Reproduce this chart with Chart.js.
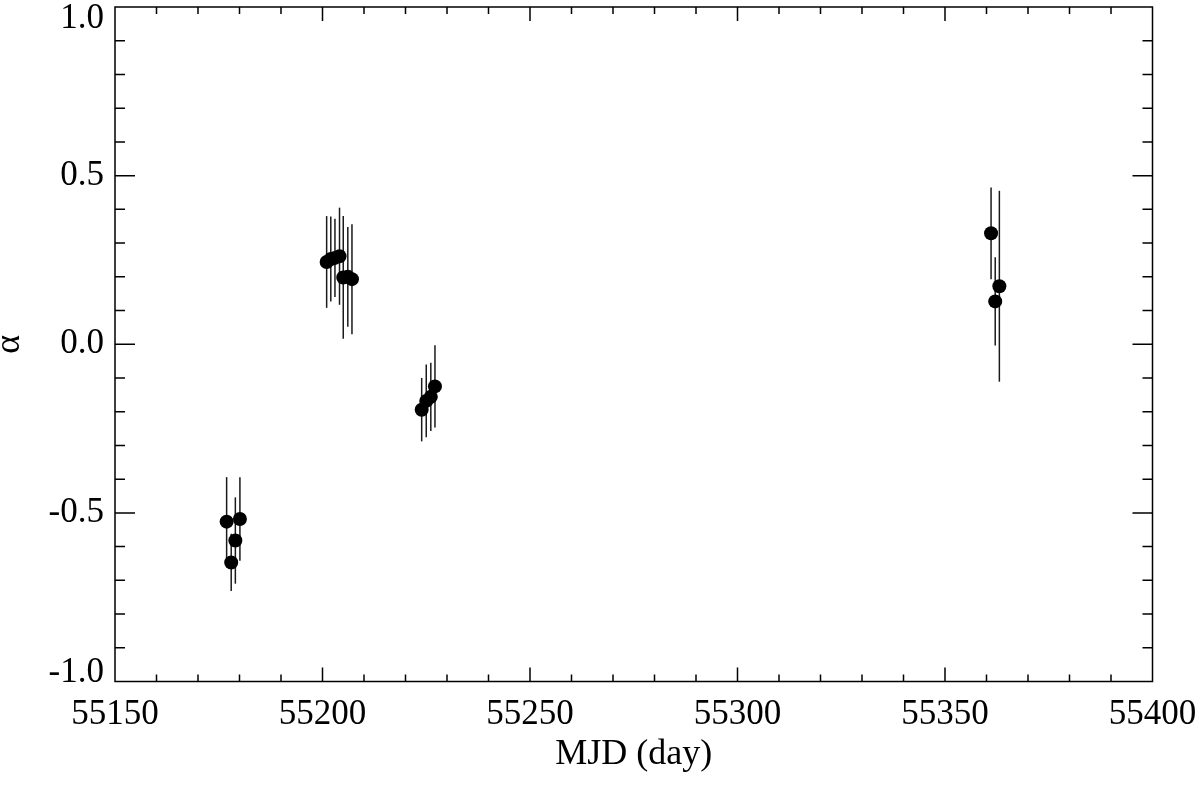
<!DOCTYPE html>
<html>
<head>
<meta charset="utf-8">
<script src="https://cdn.jsdelivr.net/npm/chart.js@4/dist/chart.umd.min.js"></script>
<style>
  html, body { margin: 0; padding: 0; background: #fff; }
  canvas { display: block; }
</style>
</head>
<body>
<canvas id="alphaChart" width="1200" height="787"></canvas>
<script>
// 数据 (MJD, alpha, 误差)
const mjd = [
    55176.9, 55178.0, 55179.0, 55180.1,
    55201.0, 55202.0, 55203.0, 55204.1, 55205.0, 55206.1, 55207.1,
    55223.9, 55225.0, 55226.1, 55227.1,
    55361.1, 55362.1, 55363.1
];
const alpha = [
    -0.526, -0.647, -0.582, -0.518,
    0.244, 0.253, 0.256, 0.261, 0.198, 0.200, 0.193,
    -0.194, -0.168, -0.156, -0.125,
    0.329, 0.127, 0.172
];
const alphaErr = [
    0.132, 0.085, 0.128, 0.124,
    0.136, 0.126, 0.116, 0.144, 0.182, 0.148, 0.163,
    0.094, 0.108, 0.101, 0.122,
    0.136, 0.131, 0.283
];

// 刻度
const xTicks = [55150, 55200, 55250, 55300, 55350, 55400];
const yTicks = [-1.0, -0.5, 0.0, 0.5, 1.0];
const xMinorStep = 10;
const yMinorStep = 0.1;

const serif = '"Liberation Serif", "Times New Roman", serif';

// 误差棒
const errorBarPlugin = {
    id: 'errorBars',
    beforeDatasetsDraw(chart) {
        const ctx = chart.ctx;
        const xs = chart.scales.x, ys = chart.scales.y;
        ctx.save();
        ctx.strokeStyle = '#1a1a1a';
        ctx.lineWidth = 1.5;
        for (let i = 0; i < mjd.length; i++) {
            const px = xs.getPixelForValue(mjd[i]);
            ctx.beginPath();
            ctx.moveTo(px, ys.getPixelForValue(alpha[i] + alphaErr[i]));
            ctx.lineTo(px, ys.getPixelForValue(alpha[i] - alphaErr[i]));
            ctx.stroke();
        }
        ctx.restore();
    }
};

// 首尾 y 标签收进图框内
const edgeLabelPlugin = {
    id: 'edgeLabels',
    beforeDraw(chart) {
        const ys = chart.scales.y;
        const items = ys.getLabelItems();
        items.forEach(item => {
            const t = item.options.translation;
            t[1] = Math.min(Math.max(t[1], ys.top + 12), ys.bottom - 9);
        });
    }
};

// 坐标框和内向刻度 (四边)
const frameTicksPlugin = {
    id: 'frameTicks',
    afterDraw(chart) {
        const ctx = chart.ctx;
        const a = chart.chartArea;
        const xs = chart.scales.x, ys = chart.scales.y;
        ctx.save();
        ctx.strokeStyle = '#000';
        ctx.lineWidth = 1.5;
        ctx.strokeRect(a.left, a.top, a.right - a.left, a.bottom - a.top);

        ctx.beginPath();
        const nx = Math.round((xs.max - xs.min) / xMinorStep);
        for (let k = 1; k < nx; k++) {
            const v = xs.min + k * xMinorStep;
            const px = xs.getPixelForValue(v);
            const len = xTicks.includes(v) ? 14 : 7;
            ctx.moveTo(px, a.bottom); ctx.lineTo(px, a.bottom - len);
            ctx.moveTo(px, a.top); ctx.lineTo(px, a.top + len);
        }
        const ny = Math.round((ys.max - ys.min) / yMinorStep);
        for (let k = 1; k < ny; k++) {
            const v = ys.min + k * yMinorStep;
            const py = ys.getPixelForValue(v);
            const major = yTicks.some(t => Math.abs(t - v) < 1e-6);
            const len = major ? 20 : 10;
            ctx.moveTo(a.left, py); ctx.lineTo(a.left + len, py);
            ctx.moveTo(a.right, py); ctx.lineTo(a.right - len, py);
        }
        ctx.stroke();
        ctx.restore();
    }
};

// 去掉标签溢出造成的额外边距
function noLabelPadding(s) {
    s.paddingLeft = 0;
    s.paddingRight = 0;
    s.paddingTop = 0;
    s.paddingBottom = 0;
}

const points = mjd.map((x, i) => ({ x: x, y: alpha[i] }));

new Chart(document.getElementById('alphaChart').getContext('2d'), {
    type: 'scatter',
    data: {
        datasets: [{
            data: points,
            backgroundColor: '#000',
            borderColor: '#000',
            pointRadius: 7,
            pointHoverRadius: 7,
            borderWidth: 0
        }]
    },
    options: {
        responsive: false,
        animation: false,
        devicePixelRatio: 1,
        layout: { padding: { top: 5.5, right: 47.5, left: 0, bottom: 0 } },
        plugins: {
            legend: { display: false },
            tooltip: { enabled: false }
        },
        scales: {
            x: {
                type: 'linear',
                min: 55150,
                max: 55400,
                afterFit(s) { s.height = 105.5; noLabelPadding(s); },
                afterBuildTicks(s) { s.ticks = xTicks.map(v => ({ value: v })); },
                grid: { display: false, drawTicks: false },
                border: { display: false },
                ticks: {
                    autoSkip: false,
                    maxRotation: 0,
                    padding: 12,
                    color: '#000',
                    font: { family: serif, size: 35 },
                    callback: v => String(v)
                },
                title: {
                    display: true,
                    text: 'MJD (day)',
                    color: '#000',
                    font: { family: serif, size: 36 },
                    padding: { top: 0, bottom: 11 }
                }
            },
            y: {
                type: 'linear',
                min: -1,
                max: 1,
                afterFit(s) { s.width = 115; noLabelPadding(s); },
                afterBuildTicks(s) { s.ticks = yTicks.map(v => ({ value: v })); },
                grid: { display: false, drawTicks: false },
                border: { display: false },
                ticks: {
                    padding: 11,
                    color: '#000',
                    font: { family: serif, size: 35 },
                    callback: v => v.toFixed(1)
                },
                title: {
                    display: true,
                    text: 'α',
                    color: '#000',
                    font: { family: serif, size: 36, lineHeight: 1 },
                    padding: { top: -8, bottom: 0 }
                }
            }
        }
    },
    plugins: [edgeLabelPlugin, errorBarPlugin, frameTicksPlugin]
});
</script>
</body>
</html>
